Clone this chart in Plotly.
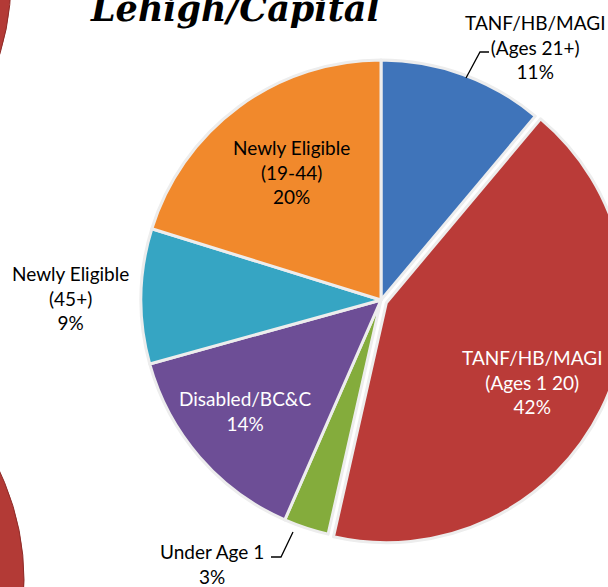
import plotly.graph_objects as go

W, H = 640, 587

# data
labels = ["TANF/HB/MAGI (Ages 21+)", "TANF/HB/MAGI (Ages 1 20)", "Under Age 1",
          "Disabled/BC&C", "Newly Eligible (45+)", "Newly Eligible (19-44)"]
label_lines = ["TANF/HB/MAGI<br>(Ages 21+)", "TANF/HB/MAGI<br>(Ages 1 20)", "Under Age 1",
               "Disabled/BC&C", "Newly Eligible<br>(45+)", "Newly Eligible<br>(19-44)"]
values = [11, 42, 3, 14, 9, 20]
colors = ["#3F74BA", "#BA3B38", "#84AC3C", "#6D4E96", "#36A5C3", "#F1892C"]
text_colors = ["black", "white", "black", "white", "black", "black"]
pulls = [0, 0.025, 0, 0, 0, 0]

# label centres in pixels (x, y of first line)
label_pos = [(535, 22), (532, 357), (212, 551), (245, 398), (70, 273), (291, 147)]


def px(x):
    return x / W


def py(y):
    return 1 - y / H


cx, cy, r = 381, 300, 246
fig = go.Figure(go.Pie(
    labels=labels, values=values, sort=False, direction="clockwise", rotation=0,
    marker=dict(colors=colors, line=dict(color="#EDEDED", width=3)),
    pull=pulls, textinfo="none", hoverinfo="label+percent",
    domain=dict(x=[px(cx - r), px(cx + r)], y=[py(cy + r), py(cy - r)]),
))

annotations = []
for lab, v, (x, y), tc in zip(label_lines, values, label_pos, text_colors):
    annotations.append(dict(
        text=f"{lab}<br>{v}%", x=px(x), y=py(y - 13), xref="paper", yref="paper",
        xanchor="center", yanchor="top", showarrow=False, align="center",
        font=dict(family="Lato", size=19, color=tc),
    ))

annotations.append(dict(
    text="<b><i>Lehigh/Capital</i></b>", x=px(235), y=py(8), xref="paper", yref="paper",
    xanchor="center", yanchor="middle", showarrow=False,
    font=dict(family="DejaVu Serif", size=35, color="black"),
))


def path(pts):
    return "M " + " L ".join(f"{px(a)} {py(b)}" for a, b in pts)


shapes = [
    # leader lines
    dict(type="path", path=path([(466, 78), (480, 52), (489, 52)]), xref="paper", yref="paper",
         line=dict(color="black", width=1.3)),
    dict(type="path", path=path([(271, 557), (281, 557), (293, 532)]), xref="paper", yref="paper",
         line=dict(color="black", width=1.3)),
    # fragments of neighbouring pies
    dict(type="circle", x0=px(-240 - 251), x1=px(-240 + 251), y0=py(-20 + 251), y1=py(-20 - 251),
         xref="paper", yref="paper", fillcolor="#B33A36", line=dict(color="#8E2B28", width=1)),
    dict(type="circle", x0=px(-230 - 254), x1=px(-230 + 254), y0=py(580 + 254), y1=py(580 - 254),
         xref="paper", yref="paper", fillcolor="#B33A36", line=dict(color="#8E2B28", width=1)),
]

fig.update_layout(
    width=W, height=H, margin=dict(l=0, r=0, t=0, b=0),
    paper_bgcolor="white", plot_bgcolor="white", showlegend=False,
    annotations=annotations, shapes=shapes,
)

fig.write_html("out.html", config={"displayModeBar": False},
               post_script="document.body.style.margin='0';document.body.style.overflow='hidden';")
